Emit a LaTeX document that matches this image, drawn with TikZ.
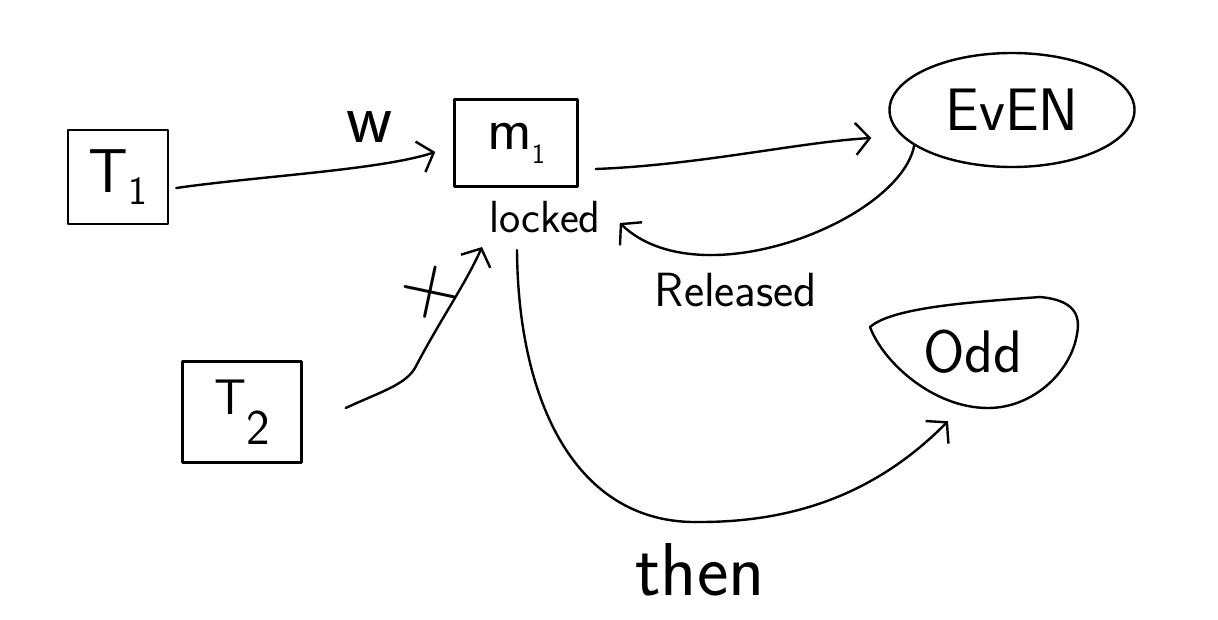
\documentclass[tikz,border=0pt]{standalone}
\usepackage{fontspec}
\usetikzlibrary{shapes.geometric,arrows.meta}
\newcommand\lowsub[2]{\raisebox{-#1}{#2}}
\begin{document}
\begin{tikzpicture}[x=1pt,y=-1pt,line width=2.4pt,line cap=round,line join=round,
  fs/.style={font=\sffamily\fontsize{#1}{#1}\selectfont},
  box/.style={draw,inner sep=0pt},
  ovalbox/.style={draw,ellipse,inner sep=0pt},
  lbl/.style={inner sep=0pt},
  conn/.style={-{Straight Barb[length=14pt,width=32pt]}}]
\useasboundingbox (0,0) rectangle (1218,619);

% nodes
\node[box,minimum width=100pt,minimum height=94pt,fs=62] (t1) at (118,177)
  {T\lowsub{12pt}{\fontsize{40}{40}\selectfont 1}};
\node[box,minimum width=123pt,minimum height=87pt,fs=60] (m1) at (516,143)
  {m\lowsub{14pt}{\fontsize{28}{28}\selectfont 1}};
\node[box,minimum width=119pt,minimum height=101pt,fs=50] (t2) at (242,412)
  {T\lowsub{30pt}{\fontsize{50}{50}\selectfont 2}};
\node[ovalbox,minimum width=245pt,minimum height=114pt,fs=60] (even) at (1012,110) {EvEN};
\node[lbl,minimum width=207pt,minimum height=110pt,fs=60] (odd) at (973,352) {Odd};
\draw[shift={(odd.center)}] (-103,-25) .. controls (-80,-45) and (0,-50) .. (67,-55)
  .. controls (100,-52) and (108,-38) .. (104,-18)
  .. controls (98,20) and (60,56) .. (15,56)
  .. controls (-40,56) and (-90,10) .. (-103,-25) -- cycle;

% labels
\node[lbl,fs=72] (w) at (370,127) {w};
\node[lbl,fs=45] (locked) at (545,217) {locked};
\node[lbl,fs=48] (rel) at (736,290) {Released};
\node[lbl,fs=75] (then) at (700,570) {then};
\node[lbl,fs=85,rotate=-12] (cross) at (430,292) {+};

\coordinate (m1in) at (482,247);
\coordinate (m1out) at (517,250);

% connectors
\draw[conn] ([xshift=7pt,yshift=-11pt]t1.east) .. controls (260,176) and (380,170) .. ([xshift=-18pt,yshift=-9pt]m1.west);
\draw[conn] ([xshift=17pt,yshift=-26pt]m1.east) .. controls (700,165) and (800,142) .. ([xshift=-17pt,yshift=-28pt]even.west);
\draw[conn] (even.200) .. controls (900,220) and (700,300) .. ([xshift=18pt,yshift=-6pt]locked.east);
\draw[conn] ([xshift=43pt,yshift=4pt]t2.east) .. controls (380,392) and (405,385) .. (415,368) .. controls (440,320) and (465,285) .. (m1in);
\draw[conn] (m1out) .. controls (518,400) and (575,525) .. (700,522) .. controls (800,522) and (880,490) .. ([xshift=-25pt,yshift=-13pt]odd.south);
\end{tikzpicture}
\end{document}
